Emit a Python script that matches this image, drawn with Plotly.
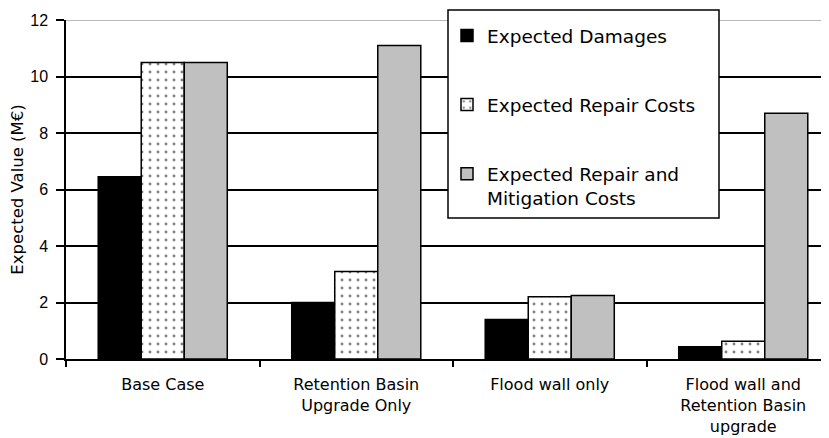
import plotly.graph_objects as go

categories = ["Base Case", "Retention Basin<br>Upgrade Only", "Flood wall only",
              "Flood wall and<br>Retention Basin<br>upgrade"]
expected_damages = [6.45, 2.0, 1.4, 0.43]
expected_repair = [10.5, 3.1, 2.2, 0.63]
expected_repair_mitigation = [10.5, 11.1, 2.25, 8.7]
series_names = ["Expected Damages", "Expected Repair Costs",
                "Expected Repair and<br>Mitigation Costs"]
y_ticks = [0, 2, 4, 6, 8, 10, 12]

SANS = "Liberation Sans, Arial, sans-serif"
WIDE = "DejaVu Sans, sans-serif"

fig = go.Figure()
fig.add_bar(x=categories, y=expected_damages, name=series_names[0],
            legendgroup="a",
            marker=dict(color="black", line=dict(color="black", width=1.5)))
fig.add_bar(x=categories, y=expected_repair, name=series_names[1],
            legendgroup="b",
            marker=dict(color="white", line=dict(color="black", width=1.5),
                        pattern=dict(shape=".", fgcolor="black", bgcolor="white",
                                     size=8, solidity=0.1)))
fig.add_bar(x=categories, y=expected_repair_mitigation, name=series_names[2],
            legendgroup="c",
            marker=dict(color="#c0c0c0", line=dict(color="black", width=1.5)))

# page body adds an 8px offset; work in screen coordinates
OFF = 8
SW, SH = 829, 438
W, H = SW - OFF, SH - OFF
PL, PT, PB = 66, 20, 359          # screen coords of plot area
L, T = PL - OFF, PT - OFF
B = SH - PB
pw = W - L
ph = PB - PT

def px_x(p):
    return (p - PL) / pw

def px_y(p):
    return (PB - p) / ph

fig.update_layout(
    width=W, height=H,
    margin=dict(l=L, r=0, t=T, b=B, autoexpand=False),
    paper_bgcolor="white", plot_bgcolor="white",
    barmode="group", bargap=0.333, bargroupgap=0,
    font=dict(family=SANS, size=13, color="black"),
    showlegend=True,
    legend=dict(x=px_x(447), y=px_y(17), xanchor="left", yanchor="top",
                bgcolor="rgba(0,0,0,0)", borderwidth=0,
                font=dict(family=WIDE, size=18.5, color="black"),
                tracegroupgap=42, valign="top", traceorder="grouped"),
    shapes=[
        dict(type="line", xref="paper", yref="y", x0=0, x1=1, y0=12, y1=12,
             line=dict(color="#a0a0a0", width=1.5), layer="below"),
        dict(type="rect", xref="paper", yref="paper",
             x0=px_x(448), x1=px_x(719), y0=px_y(218), y1=px_y(10),
             fillcolor="white", line=dict(color="black", width=1.5), layer="above"),
    ],
)

fig.update_xaxes(
    range=[-0.5, -0.5 + pw / 193.5],
    showline=True, linecolor="black", linewidth=1.5,
    ticks="outside", ticklen=6, tickcolor="black", tickwidth=1.5,
    tickson="boundaries", showgrid=False,
    tickfont=dict(family=WIDE, size=16),
    ticklabelstandoff=10,
)
fig.update_yaxes(
    range=[0, 12], tickvals=y_ticks, ticktext=[str(v) for v in y_ticks],
    showline=True, linecolor="black", linewidth=1.5,
    ticks="outside", ticklen=8, tickcolor="black", tickwidth=1.5,
    showgrid=True, gridcolor="black", gridwidth=1.5, zeroline=False,
    tickfont=dict(family=SANS, size=16),
    ticklabelstandoff=5,
    title=dict(text="Expected Value (M€)", font=dict(family=WIDE, size=16.5), standoff=6),
)

fig.write_html("out.html")
